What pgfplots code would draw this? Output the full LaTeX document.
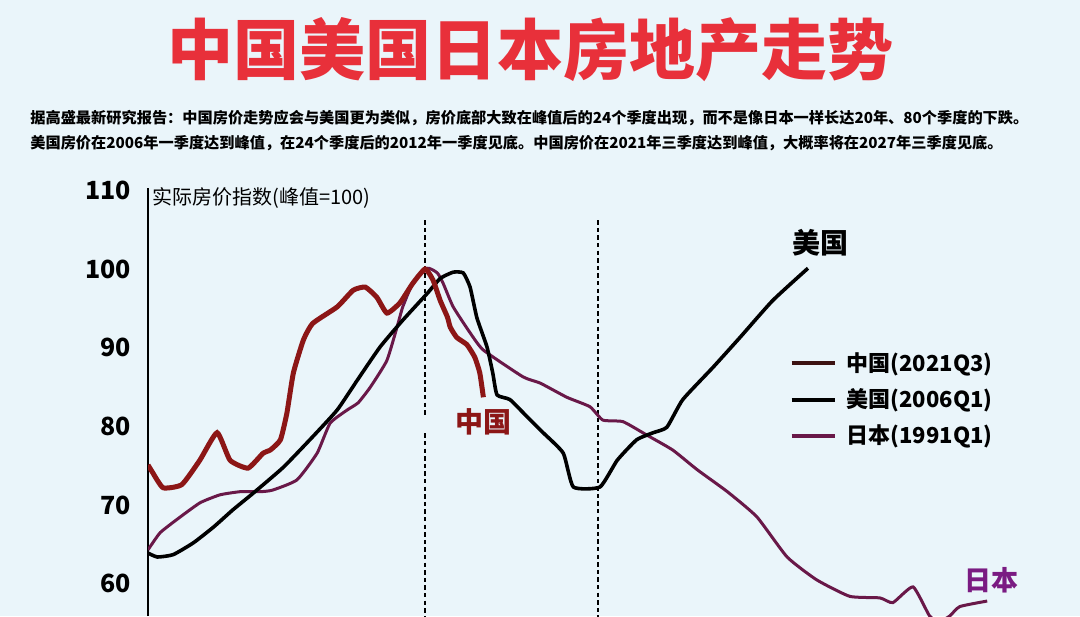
\documentclass[border=0pt]{standalone}
\usepackage{pgfplots}
\pgfplotsset{compat=1.18}
\usepackage{fontspec}
\setmainfont{Noto Sans CJK SC}
\definecolor{bgc}{RGB}{234,245,250}
\definecolor{chn}{RGB}{140,22,22}
\definecolor{jpn}{RGB}{105,24,72}
\definecolor{jpnlab}{RGB}{122,27,130}
\definecolor{titlered}{RGB}{232,48,58}
\definecolor{chnleg}{RGB}{60,18,18}
\begin{document}
\begin{tikzpicture}[x=1pt,y=1pt]
\useasboundingbox (0,0) rectangle (540,308);
\fill[bgc] (0,0) rectangle (540,308);
\node[text=titlered,font=\fontsize{33}{38}\selectfont\bfseries] at (265,283) {中国美国日本房地产走势};
\node[anchor=west,inner sep=0pt,font=\fontsize{7.6}{9}\selectfont\bfseries] at (15,249) {据高盛最新研究报告：中国房价走势应会与美国更为类似，房价底部大致在峰值后的24个季度出现，而不是像日本一样长达20年、80个季度的下跌。};
\node[anchor=west,inner sep=0pt,font=\fontsize{7.6}{9}\selectfont\bfseries] at (15,236.5) {美国房价在2006年一季度达到峰值，在24个季度后的2012年一季度见底。中国房价在2021年三季度达到峰值，大概率将在2027年三季度见底。};
\begin{axis}[
  at={(74pt,0pt)}, anchor=south west,
  width=466pt, height=214pt, scale only axis,
  xmin=-38.5, xmax=91, ymin=55.9, ymax=110.3,
  hide x axis,
  axis y line*=left,
  y axis line style={line width=0.6pt},
  ytick={60,70,80,90,100,110},
  ytick style={draw=none},
  /pgf/number format/assume math mode=true,
  yticklabel style={font=\fontsize{12.5}{14}\selectfont\bfseries, xshift=-5pt},
  legend style={draw=none, fill=none, inner sep=0pt, at={(axis description cs:0.688,0.626)}, anchor=north west, font=\fontsize{11}{13}\selectfont\bfseries, row sep=3.2pt, nodes={inner xsep=5pt}},
  legend cell align=left,
  legend image code/.code={\draw[#1] (0pt,0pt) -- (21.5pt,0pt);},
]
% dashed reference lines
\addplot[black, line width=0.75pt, dash pattern=on 2.2pt off 1.6pt, forget plot] coordinates {(0,106.2) (0,81.3)};
\addplot[black, line width=0.75pt, dash pattern=on 2.2pt off 1.6pt, forget plot] coordinates {(0,79.1) (0,55)};
\addplot[black, line width=0.75pt, dash pattern=on 2.2pt off 1.6pt, forget plot] coordinates {(24,106.2) (24,55)};
% Japan (1991Q1)
\addplot[jpn, line width=1.5pt, forget plot, smooth, tension=0.3] coordinates {
(-38.5,64.3) (-36.8,66.5) (-34.0,68.5) (-31.25,70.3) (-28.5,71.3) (-25.7,71.7) (-22.9,71.7) (-21.2,71.9) (-17.8,73.2) (-15.0,76.6) (-13.2,80.4) (-10.8,82.1) (-9.3,83.0) (-7.6,85.0) (-5.3,88.4) (-3.75,93.1) (-3.1,95.2) (-1.7,98.2) (0.3,100.1) (1.7,99.5) (2.5,98.2) (3.9,95.2) (6.25,91.9) (8.1,89.7) (13.6,86.3) (16.0,85.5) (19.7,83.7) (22.9,82.5) (24.7,80.8) (27.5,80.6) (30.8,78.9) (34.4,77.0) (37.8,74.5) (42.0,71.7) (46.1,68.5) (50.3,63.4) (54.4,60.5) (59.0,58.4) (63.2,58.2) (65.0,57.6) (67.8,59.6) (70.1,55.9) (71.5,55.2) (72.9,55.9) (74.3,57.1) (78.1,57.8)};
% US (2006Q1)
\addplot[black, line width=1.8pt, forget plot, smooth, tension=0.3] coordinates {
(-38.5,63.9) (-37.2,63.4) (-35.0,63.7) (-32.2,65.2) (-29.4,67.2) (-26.7,69.4) (-23.9,71.5) (-19.7,74.8) (-15.6,78.7) (-12.2,82.1) (-9.4,85.9) (-6.25,90.1) (-3.1,93.5) (0.3,96.9) (2.1,98.8) (3.9,99.6) (5.3,99.5) (6.25,97.7) (7.2,93.8) (8.6,90.1) (9.4,86.8) (10.0,84.0) (11.8,83.4) (14.2,81.2) (16.4,79.2) (19.2,76.6) (20.6,72.3) (24.3,72.3) (26.7,75.7) (29.4,78.3) (31.7,79.2) (33.6,79.9) (35.8,83.4) (40.0,87.5) (43.75,91.3) (48.3,96.0) (53.2,100.1)};
% China (2021Q3)
\addplot[chn, line width=2.5pt, forget plot, smooth, tension=0.3] coordinates {
(-38.5,75.1) (-37.9,74.2) (-36.4,72.2) (-33.8,72.6) (-31.3,75.7) (-28.9,79.2) (-27.1,75.7) (-24.6,74.7) (-22.5,76.6) (-21.5,77.0) (-20.1,78.3) (-19.2,81.7) (-18.3,86.8) (-16.9,91.0) (-15.6,93.1) (-12.2,95.2) (-10.0,97.3) (-8.3,97.7) (-6.7,96.4) (-5.3,94.4) (-3.5,95.7) (-1.7,98.2) (0.0,100.0) (1.1,98.6) (2.1,96.0) (3.1,93.9) (3.5,92.6) (4.4,91.3) (5.8,90.4) (6.9,88.8) (7.6,86.8) (8.1,83.7)};
\addlegendimage{chnleg, line width=2pt}
\addlegendimage{black, line width=2pt}
\addlegendimage{jpn, line width=2pt}
\legend{中国(2021Q3), 美国(2006Q1), 日本(1991Q1)}
\node[font=\fontsize{14}{16}\selectfont\bfseries] at (axis cs:54.9,103.3) {美国};
\node[text=chn, font=\fontsize{14}{16}\selectfont\bfseries] at (axis cs:8.1,80.6) {中国};
\node[text=jpnlab, font=\fontsize{13.5}{16}\selectfont\bfseries] at (axis cs:78.75,60.5) {日本};
\end{axis}
\node[anchor=west,inner sep=0pt,font=\fontsize{10}{12}\selectfont] at (76,209) {实际房价指数(峰值=100)};
\end{tikzpicture}
\end{document}
